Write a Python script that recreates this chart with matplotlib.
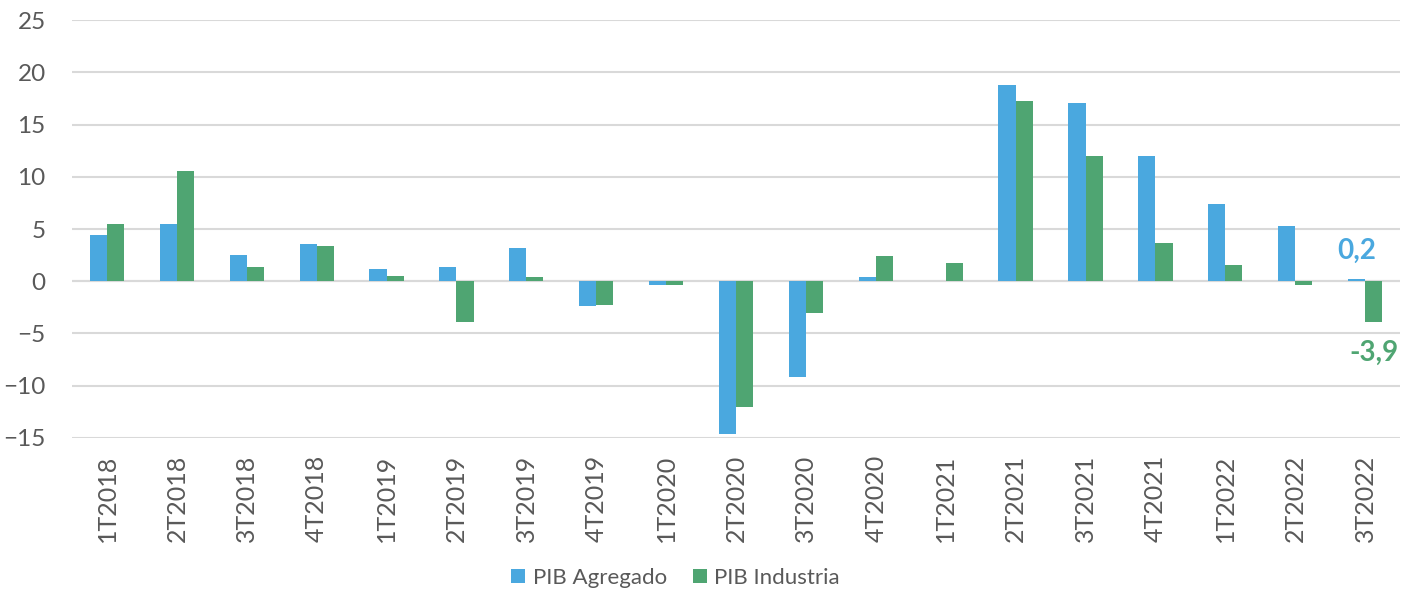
import numpy as np
import matplotlib
matplotlib.use("Agg")
import matplotlib.pyplot as plt

plt.rcParams['font.family'] = ['Lato', 'DejaVu Sans']

quarters = ["1T2018", "2T2018", "3T2018", "4T2018", "1T2019", "2T2019", "3T2019",
            "4T2019", "1T2020", "2T2020", "3T2020", "4T2020", "1T2021", "2T2021",
            "3T2021", "4T2021", "1T2022", "2T2022", "3T2022"]
pib_agregado = [4.4, 5.5, 2.5, 3.6, 1.2, 1.4, 3.2, -2.4, -0.4, -14.6, -9.2, 0.4, 0.0,
                18.8, 17.1, 12.0, 7.4, 5.3, 0.2]
pib_industria = [5.5, 10.6, 1.4, 3.4, 0.5, -3.9, 0.4, -2.3, -0.4, -12.0, -3.0, 2.4, 1.7,
                 17.3, 12.0, 3.7, 1.6, -0.4, -3.9]

blue = "#4AA8DF"
green = "#4FA572"
grey_text = "#595959"
grid_col = "#D9D9D9"

fig = plt.figure(figsize=(14.02, 5.91), dpi=100)
ax = fig.add_axes([0.0514, 0.259, 0.9472, 0.707])

x = np.arange(len(quarters))
w = 0.245
ax.bar(x - w / 2, pib_agregado, w, color=blue, label="PIB Agregado", zorder=3)
ax.bar(x + w / 2, pib_industria, w, color=green, label="PIB Industria", zorder=3)

ax.set_ylim(-15, 25)
ax.set_xlim(-0.5, len(quarters) - 0.5)
ax.set_yticks(range(-15, 26, 5))
ax.yaxis.grid(True, color=grid_col, linewidth=1.5, zorder=0)
ax.axhline(0, color=grid_col, linewidth=1.5, zorder=1)
for s in ax.spines.values():
    s.set_visible(False)
ax.tick_params(axis='both', length=0, colors=grey_text, labelsize=17.5)
ax.tick_params(axis='x', labelsize=18, pad=12)
ax.tick_params(axis='y', pad=19)
ax.set_xticks(x)
ax.set_xticklabels(quarters, rotation=90)

# last-quarter labels
ax.annotate("0,2", (x[-1] - w / 2, pib_agregado[-1]), xytext=(0, 28),
            textcoords='offset pixels', ha='center', va='center',
            color=blue, fontsize=20, fontweight='bold')
ax.annotate("-3,9", (x[-1] + w / 2, pib_industria[-1]), xytext=(0, -31),
            textcoords='offset pixels', ha='center', va='center',
            color=green, fontsize=20, fontweight='bold')

fig.legend(loc='center', bbox_to_anchor=(0.482, 0.022), ncol=2, frameon=False,
           fontsize=16, labelcolor=grey_text, handlelength=0.6, handleheight=0.6,
           handletextpad=0.35, columnspacing=1.2)

fig.savefig("out.png", dpi=100)
